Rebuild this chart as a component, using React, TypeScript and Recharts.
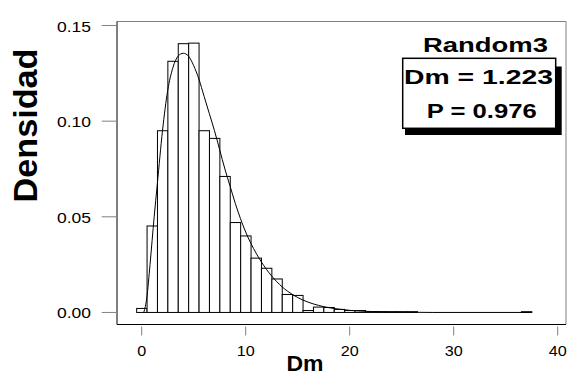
import { ComposedChart, Bar, Line, XAxis, YAxis, ReferenceLine } from 'recharts'

// histogram bins (unit width, centred on the integer)
const binCenters = [0, 1, 2, 3, 4, 5, 6, 7, 8, 9, 10, 11, 12, 13, 14, 15, 16, 17, 18, 19,
  20, 21, 22, 23, 24, 25, 26, 27, 28, 29, 30, 31, 32, 33, 34, 35, 36, 37]
const binDensity = [0.0021, 0.0452, 0.095, 0.1313, 0.1405, 0.1408, 0.095, 0.091, 0.0711, 0.047,
  0.04, 0.0284, 0.0231, 0.0175, 0.0094, 0.0089, 0.001, 0.0028, 0.0026, 0.0016,
  0.001, 0.001, 0.0004, 0.0004, 0.0004, 0.0004, 0.0004, 0, 0, 0, 0, 0, 0, 0, 0, 0, 0, 0.0004]

// fitted density curve
const curveX = [0.2, 0.5, 0.8, 1.2, 1.5, 2, 2.5, 3, 3.5, 4, 4.5, 5, 5.5, 6, 6.5, 7, 7.5, 8, 8.5, 9,
  9.5, 10, 11, 12, 13, 14, 15, 16, 17, 18, 19, 20, 22, 24, 26, 28, 37.5]
const curveY = [0, 0.008, 0.025, 0.05, 0.067, 0.095, 0.116, 0.128, 0.134, 0.1355, 0.134, 0.129,
  0.122, 0.113, 0.104, 0.095, 0.085, 0.075, 0.066, 0.057, 0.049, 0.042, 0.031, 0.0225, 0.016,
  0.0112, 0.0078, 0.0054, 0.0037, 0.0025, 0.0017, 0.0011, 0.0005, 0.0002, 0.0001, 0, 0]

const xTicks = [0, 10, 20, 30, 40]
const yTicks = [0, 0.05, 0.1, 0.15]
const panelTitle = 'Random3'
const statLines = ['Dm = 1.223', 'P = 0.976']

const W = 584
const H = 377
const Y_W = 117
const X_H = 52.5
const MARGIN = { top: 21.5, right: 18, bottom: 0, left: 0 }
const X_DOMAIN: [number, number] = [-2.375, 40.8]
const Y_DOMAIN: [number, number] = [-0.0063, 0.1521]
const FONT = '"Liberation Sans", Arial, Helvetica, sans-serif'
const GREY = '#808080'

const bins = binCenters.map((x, i) => ({ x, density: binDensity[i] }))
const curve = curveX.map((x, i) => ({ x, fit: curveY[i] }))

const plotW = W - Y_W - MARGIN.left - MARGIN.right
const binPx = plotW / (X_DOMAIN[1] - X_DOMAIN[0]) // one unit of x in pixels

// recharts narrows bars on a number axis, so widen each one back to a full bin around its centre
function BinRect(p: any) {
  const cx = p.x + p.width / 2
  const top = Math.min(p.y, p.y + p.height)
  const h = Math.abs(p.height)
  if (!h) return <g />
  return <rect x={cx - binPx / 2} y={top} width={binPx} height={h} fill="#fff" stroke="#000" strokeWidth={1} />
}

function YTick({ x, y, payload }: any) {
  return (
    <g>
      <line x1={x - 15.3} x2={x} y1={y} y2={y} stroke={GREY} />
      <text x={x - 26} y={y + 6} textAnchor="end" fontSize={14} fontFamily={FONT} fill="#000"
        textLength={34} lengthAdjust="spacingAndGlyphs">
        {payload.value.toFixed(2)}
      </text>
    </g>
  )
}

function XTick({ x, y, payload }: any) {
  const label = String(payload.value)
  return (
    <g>
      <line x1={x} x2={x} y1={y + 2} y2={y + 11} stroke={GREY} />
      <text x={x} y={y + 31.5} textAnchor="middle" fontSize={14} fontFamily={FONT} fill="#000"
        textLength={label.length * 9} lengthAdjust="spacingAndGlyphs">
        {label}
      </text>
    </g>
  )
}

export default function App() {
  return (
    <div style={{ position: 'absolute', left: 0, top: 0, width: W, height: H, background: '#fff' }}>
      <ComposedChart width={W} height={H} data={bins} margin={MARGIN}>
        <XAxis dataKey="x" type="number" domain={X_DOMAIN} allowDataOverflow ticks={xTicks}
          interval={0} height={X_H} axisLine={false} tickLine={false} tickSize={0} tickMargin={0}
          tick={<XTick />} />
        <YAxis type="number" domain={Y_DOMAIN} allowDataOverflow ticks={yTicks} interval={0}
          width={Y_W} axisLine={false} tickLine={false} tickSize={0} tickMargin={0}
          tick={<YTick />} />
        <Bar dataKey="density" shape={<BinRect />} isAnimationActive={false} />
        <Line data={curve} dataKey="fit" type="monotone" stroke="#000" strokeWidth={1}
          dot={false} activeDot={false} isAnimationActive={false} />
        <ReferenceLine x={X_DOMAIN[1]} stroke={GREY} ifOverflow="visible" />
        <ReferenceLine y={Y_DOMAIN[1]} stroke={GREY} ifOverflow="visible" />
        <ReferenceLine x={X_DOMAIN[0]} stroke="#000" ifOverflow="visible" />
        <ReferenceLine y={Y_DOMAIN[0]} stroke="#000" ifOverflow="visible" />
      </ComposedChart>
      <svg width={W} height={H} style={{ position: 'absolute', left: 0, top: 0, pointerEvents: 'none' }}
        fontFamily={FONT} fontWeight="bold">
        <text transform="translate(36.5,125.5) rotate(-90)" textAnchor="middle" fontSize={33}
          textLength={154} lengthAdjust="spacingAndGlyphs">Densidad</text>
        <text x={305} y={370.7} textAnchor="middle" fontSize={22} textLength={37}
          lengthAdjust="spacingAndGlyphs">Dm</text>
        <text x={485.5} y={51.7} textAnchor="middle" fontSize={21} textLength={125}
          lengthAdjust="spacingAndGlyphs">{panelTitle}</text>
        <rect x={405} y={66.5} width={156.7} height={68.5} fill="#000" />
        <rect x={402.7} y={58.3} width={153} height={70} fill="#fff" stroke="#000" strokeWidth={1.5} />
        <text x={478.5} y={84.3} textAnchor="middle" fontSize={21} textLength={149}
          lengthAdjust="spacingAndGlyphs">{statLines[0]}</text>
        <text x={481.7} y={118.3} textAnchor="middle" fontSize={21} textLength={110}
          lengthAdjust="spacingAndGlyphs">{statLines[1]}</text>
      </svg>
    </div>
  )
}
